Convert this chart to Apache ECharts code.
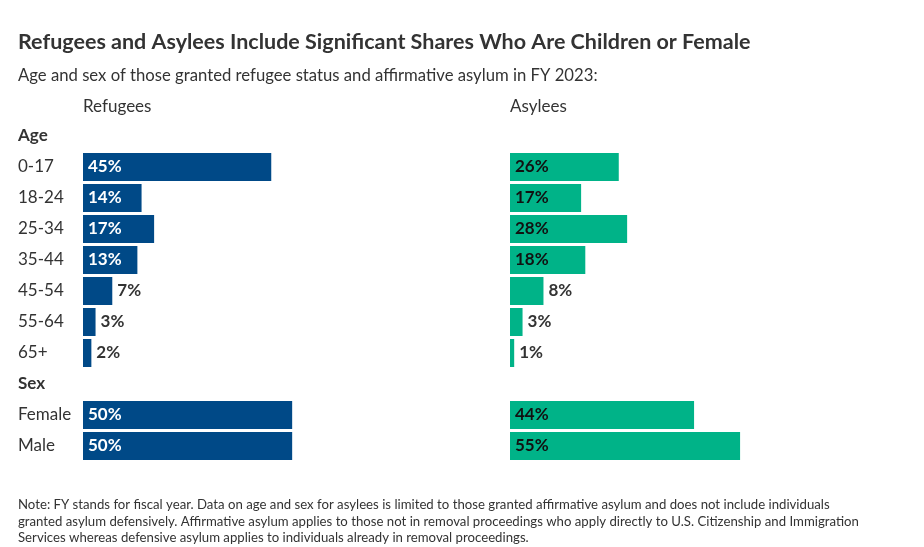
<!DOCTYPE html>
<html><head><meta charset="utf-8">
<script src="https://cdn.jsdelivr.net/npm/echarts@6/dist/echarts.min.js"></script>
<style>html,body{margin:0;padding:0;background:#fff}#c{width:924px;height:547px}</style>
</head><body><div id="c"></div>
<script>
const categories = ['Age','0-17','18-24','25-34','35-44','45-54','55-64','65+','Sex','Female','Male'];
const headers = ['Age','Sex'];
const refugees = [null,45,14,17,13,7,3,2,null,50,50];
const asylees = [null,26,17,28,18,8,3,1,null,44,55];
const noteLines = [
  'Note: FY stands for fiscal year. Data on age and sex for asylees is limited to those granted affirmative asylum and does not include individuals',
  'granted asylum defensively. Affirmative asylum applies to those not in removal proceedings who apply directly to U.S. Citizenship and Immigration',
  'Services whereas defensive asylum applies to individuals already in removal proceedings.'
];
const FONT = 'Lato, "Noto Sans", sans-serif';
const BLUE = '#004987', GREEN = '#00b388', TXT = '#333333';

function items(vals, inColor){
  return vals.map(v => {
    if (v === null) return '-';
    const inside = v >= 10;
    return {value: v, label: {show: true, position: inside ? 'insideLeft' : 'right', distance: 5,
      color: inside ? inColor : TXT, fontWeight: 'bold', fontSize: 17, fontFamily: FONT,
      formatter: p => p.value + '%'}};
  });
}
function txt(x, y, s, size, weight){
  return {type: 'text', left: x, top: y, style: {text: s, fontSize: size, fontWeight: weight || 'normal',
    fill: TXT, fontFamily: FONT, verticalAlign: 'middle'}};
}
const chart = echarts.init(document.getElementById('c'));
const gridTop = 120.5, gridH = 341, gridW = 251;
chart.setOption({
  animation: false,
  textStyle: {fontFamily: FONT},
  graphic: [
    {type: 'text', x: 18, y: 42, style: {text: 'Refugees and Asylees Include Significant Shares Who Are Children or Female',
      fontSize: 21.5, fontWeight: 'bold', fill: TXT, fontFamily: FONT, verticalAlign: 'middle'}},
    {type: 'text', x: 18, y: 76, style: {text: 'Age and sex of those granted refugee status and affirmative asylum in FY 2023:',
      fontSize: 16.7, fill: TXT, fontFamily: FONT, verticalAlign: 'middle'}},
    {type: 'text', x: 83, y: 107, style: {text: 'Refugees', fontSize: 17, fill: TXT, fontFamily: FONT, verticalAlign: 'middle'}},
    {type: 'text', x: 510, y: 107, style: {text: 'Asylees', fontSize: 17, fill: TXT, fontFamily: FONT, verticalAlign: 'middle'}}
  ].concat(noteLines.map((s, i) => ({type: 'text', x: 18, y: 505 + i * 16.5,
      style: {text: s, fontSize: 13.2, fill: TXT, fontFamily: FONT, verticalAlign: 'middle'}}))),
  grid: [
    {left: 83, top: gridTop, width: gridW, height: gridH},
    {left: 510, top: gridTop, width: gridW, height: gridH}
  ],
  xAxis: [
    {gridIndex: 0, type: 'value', min: 0, max: 60, show: false},
    {gridIndex: 1, type: 'value', min: 0, max: 60, show: false}
  ],
  yAxis: [
    {gridIndex: 0, type: 'category', data: categories, inverse: true,
     axisLine: {show: false}, axisTick: {show: false},
     axisLabel: {align: 'left', margin: 65, fontSize: 17, color: TXT, fontFamily: FONT,
       formatter: v => headers.includes(v) ? '{h|' + v + '}' : v,
       rich: {h: {fontWeight: 'bold', fontSize: 17, color: TXT, fontFamily: FONT}}}},
    {gridIndex: 1, type: 'category', data: categories, inverse: true, show: false}
  ],
  series: [
    {type: 'bar', xAxisIndex: 0, yAxisIndex: 0, data: items(refugees, '#ffffff'), barWidth: 28,
     itemStyle: {color: BLUE}},
    {type: 'bar', xAxisIndex: 1, yAxisIndex: 1, data: items(asylees, '#111111'), barWidth: 28,
     itemStyle: {color: GREEN}}
  ]
});
</script></body></html>
